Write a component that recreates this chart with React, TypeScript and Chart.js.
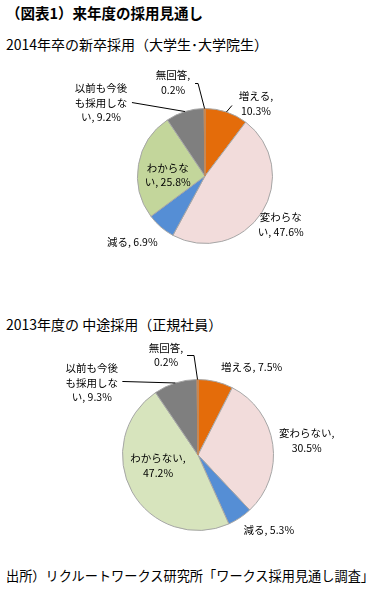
import React, { useEffect, useRef } from "react";
import { Chart, registerables } from "chart.js";
Chart.register(...registerables);

const categories = ["増える", "変わらない", "減る", "わからない", "以前も今後も採用しない", "無回答"];
const newGradValues = [10.3, 47.6, 6.9, 25.8, 9.2, 0.2];
const midCareerValues = [7.5, 30.5, 5.3, 47.2, 9.3, 0.2];

const colorsNewGrad = ["#E46C0A", "#F2DCDB", "#558ED5", "#C3D69B", "#7F7F7F", "#C9854F"];
const colorsMidCareer = ["#E46C0A", "#F2DCDB", "#558ED5", "#D7E4BD", "#7F7F7F", "#C9854F"];

const labelTextNewGrad = ["増える,\n{v}%", "変わらな\nい, {v}%", "減る, {v}%", "わからな\nい, {v}%", "以前も今後\nも採用しな\nい, {v}%", "無回答,\n{v}%"];
const labelTextMidCareer = ["増える, {v}%", "変わらない,\n{v}%", "減る, {v}%", "わからない,\n{v}%", "以前も今後\nも採用しな\nい, {v}%", "無回答,\n{v}%"];

const FONT = '"Noto Sans CJK JP", "Noto Sans", sans-serif';

const layoutNewGrad = [
  { rf: 1, dx: 29.5, dy: -8.5, leader: [[-24, 2]] },
  { rf: 1, dx: 19, dy: 12 },
  { rf: 1, dx: -28.5, dy: 14.5 },
  { rf: 0.56, dx: 0, dy: 5.5 },
  { rf: 1, dx: -84, dy: -9, leader: [[31, 0]] },
  { rf: 1, dx: -31.5, dy: -26, leader: [[22, 1], [25, 1]] },
];
const layoutMidCareer = [
  { rf: 1, dx: 36, dy: -14.5 },
  { rf: 1, dx: 34, dy: -4 },
  { rf: 1, dx: 29, dy: 12 },
  { rf: 0.56, dx: -3, dy: -10 },
  { rf: 1, dx: -83.5, dy: 0, leader: [[30.5, -1.5]] },
  { rf: 1, dx: -31.5, dy: -24.5, leader: [[21, 0.5], [28, 0.5]] },
];

const calloutPlugin = {
  id: "callout",
  afterDatasetsDraw(chart: any, _args: any, opts: any) {
    const meta = chart.getDatasetMeta(0);
    const ctx = chart.ctx;
    const values = chart.data.datasets[0].data;
    ctx.save();
    ctx.font = opts.font;
    ctx.fillStyle = "#000";
    ctx.strokeStyle = "#000";
    ctx.lineWidth = 1;
    ctx.textAlign = "center";
    ctx.textBaseline = "middle";
    meta.data.forEach((arc: any, i: number) => {
      const cfg = opts.items[i];
      const p = arc.getProps(["x", "y", "startAngle", "endAngle", "outerRadius"], true);
      const mid = (p.startAngle + p.endAngle) / 2;
      const ex = p.x + Math.cos(mid) * p.outerRadius;
      const ey = p.y + Math.sin(mid) * p.outerRadius;
      const ax = p.x + Math.cos(mid) * p.outerRadius * cfg.rf + cfg.dx;
      const ay = p.y + Math.sin(mid) * p.outerRadius * cfg.rf + cfg.dy;
      const text = opts.templates[i].replace("{v}", Number(values[i]).toFixed(1));
      const lines = text.split("\n");
      lines.forEach((ln: string, k: number) => {
        ctx.fillText(ln, ax, ay + (k - (lines.length - 1) / 2) * opts.lineHeight);
      });
      if (cfg.leader) {
        ctx.beginPath();
        cfg.leader.forEach((pt: number[], k: number) => {
          if (k === 0) ctx.moveTo(ax + pt[0], ay + pt[1]);
          else ctx.lineTo(ax + pt[0], ay + pt[1]);
        });
        ctx.lineTo(ex, ey);
        ctx.stroke();
      }
    });
    ctx.restore();
  },
};

function PieChart(props: {
  values: number[];
  colors: string[];
  templates: string[];
  layout: any[];
  top: number;
  height: number;
  padding: { top: number; bottom: number; left: number; right: number };
}) {
  const ref = useRef<HTMLCanvasElement>(null);
  useEffect(() => {
    if (!ref.current) return;
    const borderColors = props.colors.map((c, i) => (i === props.colors.length - 1 ? c : "#A6A6A6"));
    const chart = new Chart(ref.current, {
      type: "pie",
      data: {
        labels: categories,
        datasets: [
          {
            data: props.values,
            backgroundColor: props.colors,
            borderColor: borderColors,
            borderWidth: 1,
          },
        ],
      },
      options: {
        animation: false,
        responsive: false,
        devicePixelRatio: 1,
        layout: { padding: props.padding },
        plugins: {
          legend: { display: false },
          tooltip: { enabled: false },
          callout: {
            font: `10.5px ${FONT}`,
            lineHeight: 14.5,
            templates: props.templates,
            items: props.layout,
          },
        } as any,
      },
      plugins: [calloutPlugin as any],
    });
    return () => chart.destroy();
  }, []);
  return (
    <canvas
      ref={ref}
      width={380}
      height={props.height}
      style={{ position: "absolute", left: 0, top: props.top, width: 380, height: props.height }}
    />
  );
}

const textStyle = (top: number, size: number, bold = false): React.CSSProperties => ({
  position: "absolute",
  left: 6,
  top: top - size / 2 - 1,
  fontFamily: FONT,
  fontSize: size,
  lineHeight: `${size + 2}px`,
  fontWeight: bold ? 700 : 400,
  color: "#000",
  whiteSpace: "nowrap",
});

export default function App() {
  return (
    <div style={{ position: "absolute", left: 0, top: 0, width: 380, height: 599, background: "#fff", overflow: "hidden" }}>
      <div style={textStyle(13, 14.5, true)}>（図表1）来年度の採用見通し</div>
      <div style={textStyle(44, 14)}>2014年卒の新卒採用（大学生･大学院生）</div>
      <PieChart
        values={newGradValues}
        colors={colorsNewGrad}
        templates={labelTextNewGrad}
        layout={layoutNewGrad}
        top={60}
        height={240}
        padding={{ top: 48, bottom: 56, left: 137, right: 107 }}
      />
      <div style={textStyle(324, 14)}>2013年度の 中途採用（正規社員）</div>
      <PieChart
        values={midCareerValues}
        colors={colorsMidCareer}
        templates={labelTextMidCareer}
        layout={layoutMidCareer}
        top={330}
        height={230}
        padding={{ top: 49, bottom: 29, left: 122, right: 106 }}
      />
      <div style={textStyle(576, 13.2)}>出所）リクルートワークス研究所「ワークス採用見通し調査」</div>
    </div>
  );
}
